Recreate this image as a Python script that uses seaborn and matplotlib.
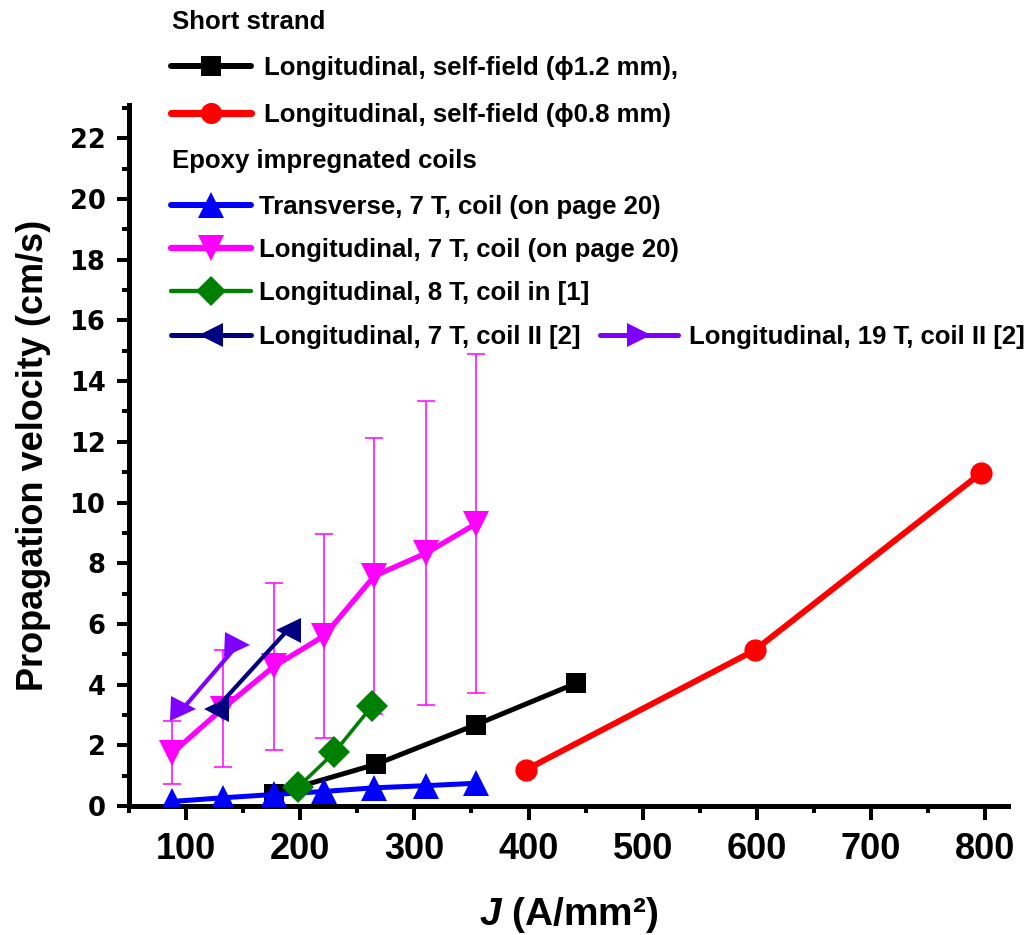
import matplotlib
matplotlib.use("Agg")
import matplotlib.pyplot as plt
from matplotlib.lines import Line2D
from matplotlib.ticker import MultipleLocator
from matplotlib.font_manager import FontProperties
import seaborn as sns

# ---------------- data ----------------
# Short strand, longitudinal, self-field
strand_12_J = [177, 266, 354, 442]
strand_12_v = [0.40, 1.37, 2.68, 4.05]
strand_08_J = [398, 598, 796]
strand_08_v = [1.20, 5.13, 10.96]

# Epoxy impregnated coils
coil_trans_J = [88, 132, 177, 221, 265, 310, 354]
coil_trans_v = [0.15, 0.27, 0.38, 0.48, 0.60, 0.67, 0.75]
coil_long_J = [88, 132, 177, 221, 265, 310, 354]
coil_long_v = [1.75, 3.21, 4.60, 5.61, 7.58, 8.33, 9.30]
coil_long_err = [1.04, 1.92, 2.75, 3.36, 4.55, 5.00, 5.58]
coil_8T_J = [198, 230, 263]
coil_8T_v = [0.62, 1.77, 3.30]
coil2_7T_J = [126, 189]
coil2_7T_v = [3.20, 5.80]
coil2_19T_J = [97, 145]
coil2_19T_v = [3.20, 5.30]

group_titles = ["Short strand", "Epoxy impregnated coils"]
series_labels = [
    "Longitudinal, self-field (\u03d51.2 mm),",
    "Longitudinal, self-field (\u03d50.8 mm)",
    "Transverse, 7 T, coil (on page 20)",
    "Longitudinal, 7 T, coil (on page 20)",
    "Longitudinal, 8 T, coil in [1]",
    "Longitudinal, 7 T, coil II [2]",
    "Longitudinal, 19 T, coil II [2]",
]
x_ticks = [100, 200, 300, 400, 500, 600, 700, 800]
y_ticks = [0, 2, 4, 6, 8, 10, 12, 14, 16, 18, 20, 22]
x_label = r"$J$ (A/mm²)"
y_label = "Propagation velocity (cm/s)"

# ---------------- style ----------------
sns.set_style("ticks")
plt.rcParams["font.family"] = ["Liberation Sans", "DejaVu Sans"]
plt.rcParams["font.weight"] = "bold"
plt.rcParams["mathtext.fontset"] = "custom"
plt.rcParams["mathtext.it"] = "Liberation Sans:italic:bold"
plt.rcParams["mathtext.rm"] = "Liberation Sans:bold"
for key in ("text.color", "axes.labelcolor", "xtick.color", "ytick.color",
            "axes.edgecolor"):
    plt.rcParams[key] = "black"

W, H = 1029, 935
fig = plt.figure(figsize=(W / 100, H / 100), dpi=100)
ax = fig.add_axes([129 / W, 129 / H, 879 / W, 701 / H])

styles = [
    dict(color="#000000", marker="s", markersize=15, linewidth=3.6),
    dict(color="#FF0000", marker="o", markersize=16, linewidth=4.3),
    dict(color="#0000FF", marker="^", markersize=19, linewidth=3.6),
    dict(color="#FF00FF", marker="v", markersize=19, linewidth=3.8),
    dict(color="#008000", marker="D", markersize=16, linewidth=2.6),
    dict(color="#000080", marker="<", markersize=18, linewidth=3.0),
    dict(color="#8000FF", marker=">", markersize=18, linewidth=3.0),
]
series = [
    (strand_12_J, strand_12_v),
    (strand_08_J, strand_08_v),
    (coil_trans_J, coil_trans_v),
    (coil_long_J, coil_long_v),
    (coil_8T_J, coil_8T_v),
    (coil2_7T_J, coil2_7T_v),
    (coil2_19T_J, coil2_19T_v),
]

# error bars of the longitudinal 7 T coil, drawn beneath the curves
ax.errorbar(coil_long_J, coil_long_v, yerr=coil_long_err, fmt="none",
            ecolor="#FF00FF", elinewidth=1.1, capsize=6.5, capthick=1.1,
            zorder=2)

for (xs, ys), st in zip(series, styles):
    sns.lineplot(x=xs, y=ys, ax=ax, color=st["color"], marker=st["marker"],
                 markersize=st["markersize"], linewidth=st["linewidth"],
                 markeredgecolor=st["color"], markeredgewidth=0,
                 sort=False, estimator=None, legend=False, zorder=3)

# ---------------- axes ----------------
ax.set_xlim(50, 820)
ax.set_ylim(0, 23.1)
ax.set_xticks(x_ticks)
ax.set_yticks(y_ticks)
ax.xaxis.set_minor_locator(MultipleLocator(50))
ax.yaxis.set_minor_locator(MultipleLocator(1))
for side in ("top", "right"):
    ax.spines[side].set_visible(False)
for side in ("left", "bottom"):
    ax.spines[side].set_linewidth(3.6)
    ax.spines[side].set_color("black")

ax.tick_params(axis="x", which="major", direction="out", length=10, width=2.9,
               pad=9, color="black", labelcolor="black")
ax.tick_params(axis="x", which="minor", direction="out", length=5, width=2.9,
               color="black")
ax.tick_params(axis="y", which="major", direction="out", length=9, width=2.9,
               pad=8, color="black", labelcolor="black")
ax.tick_params(axis="y", which="minor", direction="out", length=4.7, width=2.9,
               color="black")

xtick_font = FontProperties(family=["Liberation Sans Narrow", "Liberation Sans"],
                            weight="bold", size=26)
ytick_font = FontProperties(family="DejaVu Sans", weight="bold", size=18.5)
ax.set_xticklabels([str(t) for t in x_ticks], fontproperties=xtick_font)
ax.set_yticklabels([str(t) for t in y_ticks], fontproperties=ytick_font)

ax.set_xlabel(x_label, color="black", fontproperties=FontProperties(
    family=["Liberation Sans Narrow", "Liberation Sans"], weight="bold", size=28))
ax.xaxis.set_label_coords(0.5, -0.155)
ax.xaxis.label.set_va("center")
ax.set_ylabel(y_label, color="black", fontproperties=FontProperties(
    family="Liberation Sans", weight="bold", size=26))
ax.yaxis.set_label_coords(-0.109, 0.5)
ax.yaxis.label.set_va("center")

# ---------------- legend ----------------
leg_font = FontProperties(family=["Liberation Sans", "DejaVu Sans"],
                          weight="bold", size=18.5)


def legend_row(idx, x_px, y_px, hlen, tpad):
    st = styles[idx]
    handle = Line2D([], [], color=st["color"], marker=st["marker"],
                    markersize=st["markersize"] * 0.95,
                    linewidth=st["linewidth"] * 1.2, markeredgewidth=0)
    return fig.legend(handles=[handle], labels=[series_labels[idx]],
                      loc="center left",
                      bbox_to_anchor=(x_px / W, 1 - y_px / H),
                      bbox_transform=fig.transFigure, frameon=False,
                      borderpad=0, borderaxespad=0, handlelength=hlen,
                      handletextpad=tpad, prop=leg_font, labelcolor="black")


fig.text(172 / W, 1 - 29 / H, group_titles[0], fontproperties=leg_font,
         va="baseline", ha="left", color="black")
legend_row(0, 171, 68, 3.1, 0.5)
legend_row(1, 171, 115, 3.1, 0.5)
fig.text(172 / W, 1 - 168 / H, group_titles[1], fontproperties=leg_font,
         va="baseline", ha="left", color="black")
legend_row(2, 171, 207, 3.1, 0.32)
legend_row(3, 171, 250, 3.1, 0.32)
legend_row(4, 171, 293, 3.1, 0.32)
legend_row(5, 171, 337, 3.1, 0.32)
legend_row(6, 600, 337, 3.05, 0.42)

fig.savefig("out.png", dpi=100)
